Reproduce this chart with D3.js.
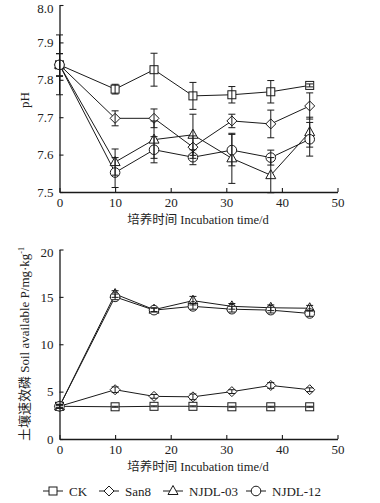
<!DOCTYPE html>
<html><head><meta charset="utf-8">
<script src="https://cdn.jsdelivr.net/npm/d3@7"></script>
<style>
html,body{margin:0;padding:0;background:#fff;}
svg{display:block;font-family:"Liberation Serif","Noto Sans CJK SC",serif;}
</style></head>
<body><svg id="c" width="380" height="503"></svg>
<script>
const days = [0, 10, 17, 24, 31, 38, 45];
const seriesNames = ["CK", "San8", "NJDL-03", "NJDL-12"];
const xTicks = [0, 10, 20, 30, 40, 50];
const pHTicks = [7.5, 7.6, 7.7, 7.8, 7.9, 8.0];
const pTicks = [0, 5, 10, 15, 20];

// pH
const pH_CK     = [7.84, 7.775, 7.827, 7.757, 7.760, 7.768, 7.785];
const pH_San8   = [7.84, 7.697, 7.697, 7.620, 7.690, 7.682, 7.730];
const pH_NJDL03 = [7.84, 7.580, 7.640, 7.653, 7.590, 7.545, 7.660];
const pH_NJDL12 = [7.84, 7.552, 7.613, 7.593, 7.612, 7.592, 7.641];
const pHErr_CK     = [0.08, 0.013, 0.044, 0.036, 0.022, 0.030, 0.004];
const pHErr_San8   = [0.03, 0.020, 0.025, 0.030, 0.018, 0.037, 0.035];
const pHErr_NJDL03 = [0.03, 0.035, 0.050, 0.055, 0.067, 0.047, 0.040];
const pHErr_NJDL12 = [0.03, 0.040, 0.035, 0.020, 0.042, 0.020, 0.045];

// available P
const P_CK     = [3.45, 3.4, 3.45, 3.45, 3.4, 3.4, 3.4];
const P_San8   = [3.45, 5.2, 4.5, 4.45, 5.0, 5.65, 5.2];
const P_NJDL03 = [3.45, 15.3, 13.65, 14.6, 14.0, 13.85, 13.8];
const P_NJDL12 = [3.45, 15.0, 13.6, 14.0, 13.7, 13.6, 13.25];
const PErr_CK     = [0.1, 0.05, 0.05, 0.05, 0.05, 0.05, 0.05];
const PErr_San8   = [0.2, 0.3, 0.2, 0.3, 0.2, 0.3, 0.2];
const PErr_NJDL03 = [0.2, 0.35, 0.2, 0.45, 0.3, 0.3, 0.3];
const PErr_NJDL12 = [0.2, 0.3, 0.2, 0.3, 0.3, 0.3, 0.3];

const symbols = ["square", "diamond", "triangle", "circle"];
const ink = "#1a1a1a";
const svg = d3.select("#c");

function marker(g, type, cx, cy) {
  let el;
  if (type === "square") {
    el = g.append("rect").attr("x", cx - 4).attr("y", cy - 4).attr("width", 8).attr("height", 8);
  } else if (type === "diamond") {
    el = g.append("path").attr("d", `M${cx},${cy-5}L${cx+5},${cy}L${cx},${cy+5}L${cx-5},${cy}Z`);
  } else if (type === "triangle") {
    el = g.append("path").attr("d", `M${cx},${cy-5.5}L${cx+5},${cy+3.5}L${cx-5},${cy+3.5}Z`);
  } else {
    el = g.append("circle").attr("cx", cx).attr("cy", cy).attr("r", 4.8);
  }
  el.attr("fill", "#fff").attr("stroke", ink).attr("stroke-width", 1);
}

function panel(cfg) {
  const x = d3.scaleLinear().domain([0, 50]).range([59.5, 337.5]);
  const y = d3.scaleLinear().domain(cfg.domain).range([cfg.bottom, cfg.top]);
  const g = svg.append("g");

  const lineGen = d3.line().x((d, i) => x(days[i])).y(d => y(d));
  cfg.series.forEach((s, k) => {
    g.append("path").datum(s).attr("d", lineGen).attr("fill", "none")
      .attr("stroke", ink).attr("stroke-width", 1);
  });
  cfg.series.forEach((s, k) => {
    s.forEach((v, i) => marker(g, symbols[k], x(days[i]), y(v)));
  });
  cfg.series.forEach((s, k) => {
    const e = cfg.errs[k];
    s.forEach((v, i) => {
      const cx = x(days[i]);
      const y1 = y(v - e[i]), y2 = y(v + e[i]);
      g.append("line").attr("x1", cx).attr("x2", cx).attr("y1", y1).attr("y2", y2)
        .attr("stroke", ink).attr("stroke-width", 1);
      [y1, y2].forEach(yy => g.append("line").attr("x1", cx - 3.5).attr("x2", cx + 3.5)
        .attr("y1", yy).attr("y2", yy).attr("stroke", ink).attr("stroke-width", 1));
    });
  });

  const ax = g.append("g").attr("transform", `translate(0,${cfg.bottom})`)
    .call(d3.axisBottom(x).tickValues(xTicks).tickSizeInner(-4).tickSizeOuter(0).tickPadding(6));
  const ay = g.append("g").attr("transform", `translate(59.5,0)`)
    .call(d3.axisLeft(y).tickValues(cfg.ticks).tickFormat(cfg.fmt).tickSizeInner(-4).tickSizeOuter(0).tickPadding(6));
  [ax, ay].forEach(a => {
    a.select(".domain").attr("stroke", ink).attr("stroke-width", 1.3);
    a.selectAll(".tick line").attr("stroke", ink).attr("stroke-width", 1.1);
    a.selectAll("text").attr("font-family", "Liberation Serif").attr("font-size", 13).attr("fill", "#222");
  });
  // nudge the top-most y label so it stays inside the picture
  ay.selectAll(".tick text").filter(d => d === cfg.domain[1]).attr("dy", "0.55em");

  g.append("text").attr("x", 198).attr("y", cfg.bottom + 32)
    .attr("text-anchor", "middle").attr("font-size", 12.5).attr("fill", "#222")
    .text("培养时间 Incubation time/d");

  const yl = g.append("text").attr("transform", `translate(29,${cfg.ylabelY}) rotate(-90)`)
    .attr("text-anchor", "middle").attr("font-size", 13).attr("fill", "#222");
  cfg.ylabel(yl);
}

panel({
  domain: [7.5, 8.0], top: 5, bottom: 192, ticks: pHTicks, fmt: d3.format(".1f"),
  series: [pH_CK, pH_San8, pH_NJDL03, pH_NJDL12],
  errs: [pHErr_CK, pHErr_San8, pHErr_NJDL03, pHErr_NJDL12],
  ylabelY: 100,
  ylabel: t => t.text("pH")
});

panel({
  domain: [0, 20], top: 249.5, bottom: 439, ticks: pTicks, fmt: d3.format("d"),
  series: [P_CK, P_San8, P_NJDL03, P_NJDL12],
  errs: [PErr_CK, PErr_San8, PErr_NJDL03, PErr_NJDL12],
  ylabelY: 344,
  ylabel: t => {
    t.append("tspan").text("土壤速效磷 Soil available P/mg·kg");
    t.append("tspan").attr("font-size", 8).attr("dy", -5).text("-1");
  }
});

// legend
const legX = [43, 99, 163, 246];
const lg = svg.append("g");
seriesNames.forEach((n, k) => {
  const x0 = legX[k], cy = 491;
  lg.append("line").attr("x1", x0).attr("x2", x0 + 20).attr("y1", cy).attr("y2", cy)
    .attr("stroke", ink).attr("stroke-width", 1);
  marker(lg, symbols[k], x0 + 10, cy);
  lg.append("text").attr("x", x0 + 26).attr("y", cy + 4.5).attr("font-size", 13)
    .attr("fill", "#222").text(n);
});
</script></body></html>
